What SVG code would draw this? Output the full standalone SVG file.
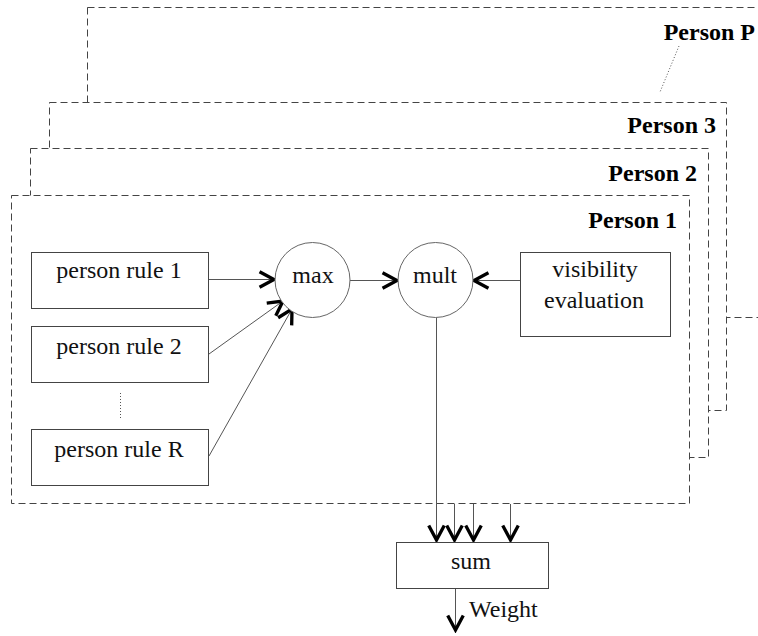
<svg xmlns="http://www.w3.org/2000/svg" width="758" height="636" viewBox="0 0 758 636">
<style>
.frame{fill:#fff;stroke:#444;stroke-width:1;stroke-dasharray:7 4}
.box{fill:#fff;stroke:#444;stroke-width:1}
.circ{fill:#fff;stroke:#666;stroke-width:1}
.t{font-family:'Liberation Serif','DejaVu Serif',serif;font-size:24px;fill:#111;text-anchor:middle}
.lbl{font-family:'Liberation Serif','DejaVu Serif',serif;font-size:24px;font-weight:bold;fill:#000;text-anchor:end}
.wire{fill:none;stroke:#555;stroke-width:1}
.arr{marker-end:url(#chev)}
.dot{fill:none;stroke:#555;stroke-width:1;stroke-dasharray:1 2}
</style>
<defs>
<marker id="chev" markerUnits="userSpaceOnUse" markerWidth="20" markerHeight="20" viewBox="-15 -9 17 18" refX="0" refY="0" orient="auto">
<path d="M-13,-7 L0,0 L-13,7" fill="none" stroke="#000" stroke-width="3"/>
</marker>
</defs>
<rect width="758" height="636" fill="#fff"/>
<g id="frame-person-p">
<rect class="frame" x="87.5" y="7.5" width="700" height="310"/>
<text class="lbl" x="755" y="40">Person P</text>
<line class="dot" x1="679" y1="46" x2="660" y2="92"/>
</g>
<g id="frame-person-3">
<rect class="frame" x="49.5" y="102.5" width="677" height="308"/>
<text class="lbl" x="716" y="133">Person 3</text>
</g>
<g id="frame-person-2">
<rect class="frame" x="30.5" y="148.5" width="678" height="309"/>
<text class="lbl" x="697" y="181">Person 2</text>
</g>
<g id="frame-person-1">
<rect class="frame" x="11.5" y="195.5" width="678" height="308"/>
<text class="lbl" x="677" y="228">Person 1</text>
</g>
<g id="connectors">
<line class="wire arr" x1="208" y1="279.5" x2="274" y2="279.5"/>
<line class="wire arr" x1="209" y1="354" x2="283" y2="301"/>
<line class="wire arr" x1="209" y1="456" x2="292" y2="309"/>
<line class="wire arr" x1="350" y1="280.5" x2="397" y2="280.5"/>
<line class="wire arr" x1="520" y1="280.5" x2="474" y2="280.5"/>
<line class="wire arr" x1="436.5" y1="318" x2="436.5" y2="540"/>
<line class="wire arr" x1="454.5" y1="504" x2="454.5" y2="540"/>
<line class="wire arr" x1="473.5" y1="504" x2="473.5" y2="540"/>
<line class="wire arr" x1="510.5" y1="504" x2="510.5" y2="540"/>
<line class="wire arr" x1="455.5" y1="588" x2="455.5" y2="630"/>
<line class="dot" x1="120.5" y1="393" x2="120.5" y2="418"/>
</g>
<g id="rule1">
<rect class="box" x="31.5" y="252.5" width="177" height="56"/>
<text class="t" x="119" y="278">person rule 1</text>
</g>
<g id="rule2">
<rect class="box" x="31.5" y="326.5" width="177" height="56"/>
<text class="t" x="119" y="354">person rule 2</text>
</g>
<g id="ruleR">
<rect class="box" x="31.5" y="429.5" width="177" height="56"/>
<text class="t" x="119" y="457">person rule R</text>
</g>
<g id="max">
<circle class="circ" cx="312.5" cy="280" r="37.5"/>
<text class="t" x="313" y="283">max</text>
</g>
<g id="mult">
<circle class="circ" cx="435.5" cy="280" r="37.5"/>
<text class="t" x="435" y="283">mult</text>
</g>
<g id="visibility">
<rect class="box" x="520.5" y="252.5" width="150" height="84"/>
<text class="t" x="595" y="277">visibility</text>
<text class="t" x="594" y="308">evaluation</text>
</g>
<g id="sum">
<rect class="box" x="396.5" y="542.5" width="152" height="46"/>
<text class="t" x="471" y="569">sum</text>
</g>
<text id="weight-label" x="469" y="617" font-family="'Liberation Serif','DejaVu Serif',serif" font-size="24" fill="#111">Weight</text>
</svg>
